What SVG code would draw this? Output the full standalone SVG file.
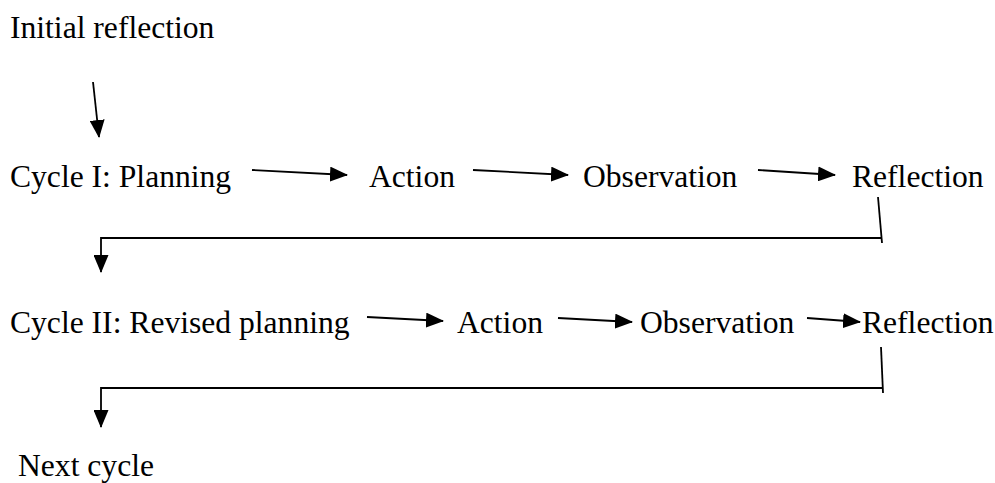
<svg xmlns="http://www.w3.org/2000/svg" width="995" height="483" viewBox="0 0 995 483">
<style>
text{font-family:"Liberation Serif","Times New Roman",serif;font-size:31.6px;fill:#000}
.c{stroke:#000;stroke-width:1.8;fill:none}
</style>
<defs>
<marker id="ah" viewBox="0 0 18 15" refX="17" refY="7.5" markerUnits="userSpaceOnUse" markerWidth="18" markerHeight="15" orient="auto">
<path d="M0,0 L18,7.5 L0,15 Z" fill="#000"/>
</marker>
</defs>
<rect width="995" height="483" fill="#fff"/>
<g id="initial"><text x="10" y="38">Initial reflection</text></g>
<g id="c1-planning"><text x="10" y="187">Cycle I: Planning</text></g>
<g id="c1-action"><text x="369" y="187">Action</text></g>
<g id="c1-observation"><text x="583" y="187">Observation</text></g>
<g id="c1-reflection"><text x="852" y="187">Reflection</text></g>
<g id="c2-planning"><text x="10" y="333">Cycle II: Revised planning</text></g>
<g id="c2-action"><text x="457" y="333">Action</text></g>
<g id="c2-observation"><text x="640" y="333">Observation</text></g>
<g id="c2-reflection"><text x="862" y="333">Reflection</text></g>
<g id="next"><text x="18" y="476">Next cycle</text></g>
<g id="connectors">
<line class="c" x1="93" y1="82" x2="99" y2="137" marker-end="url(#ah)"/>
<line class="c" x1="252" y1="170" x2="347" y2="175" marker-end="url(#ah)"/>
<line class="c" x1="473" y1="170" x2="568" y2="175" marker-end="url(#ah)"/>
<line class="c" x1="758" y1="170" x2="835" y2="175" marker-end="url(#ah)"/>
<line class="c" x1="878" y1="197" x2="882" y2="243"/>
<polyline class="c" points="881,238 101,238 101,272" marker-end="url(#ah)"/>
<line class="c" x1="367" y1="317" x2="443" y2="321" marker-end="url(#ah)"/>
<line class="c" x1="558" y1="318" x2="632" y2="322" marker-end="url(#ah)"/>
<line class="c" x1="807" y1="318" x2="860" y2="322" marker-end="url(#ah)"/>
<line class="c" x1="881" y1="347" x2="883" y2="393"/>
<polyline class="c" points="882,388 101,388 101,427" marker-end="url(#ah)"/>
</g>
</svg>
